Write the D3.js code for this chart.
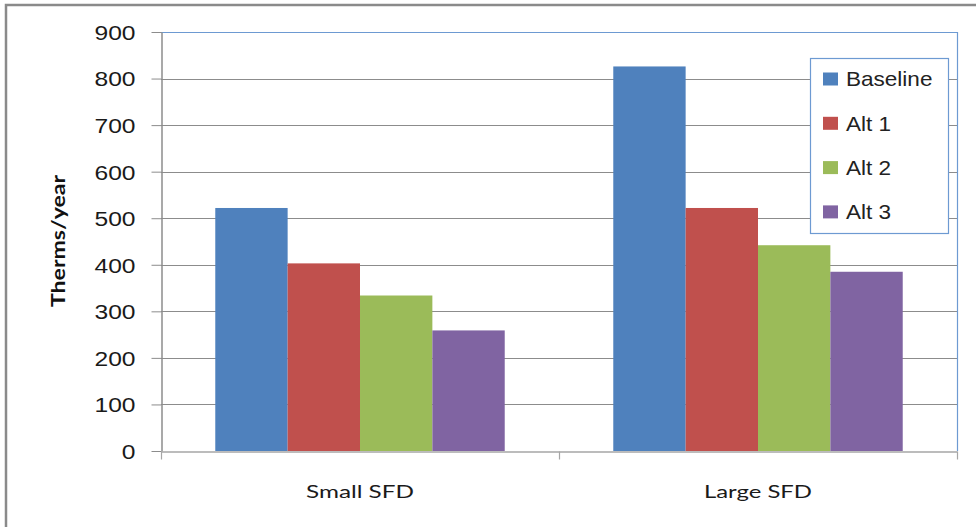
<!DOCTYPE html>
<html>
<head>
<meta charset="utf-8">
<script src="https://cdn.jsdelivr.net/npm/d3@7"></script>
<style>
  html, body { margin: 0; padding: 0; background: #fff; }
  svg { display: block; }
</style>
</head>
<body>
<svg id="chart" width="976" height="527"></svg>
<script>
// Annual gas use per house type and scenario
const categories = ["Small SFD", "Large SFD"];
const seriesNames = ["Baseline", "Alt 1", "Alt 2", "Alt 3"];
const baseline = [522, 826];
const alt1 = [403, 522];
const alt2 = [334, 442];
const alt3 = [259, 385];
const yTicks = [0, 100, 200, 300, 400, 500, 600, 700, 800, 900];
const seriesColors = ["#4F81BD", "#C0504D", "#9BBB59", "#8064A2"];
const yTitle = "Therms/year";

const seriesValues = [baseline, alt1, alt2, alt3];

const svg = d3.select("#chart");
const plot = { left: 161, right: 957, top: 32, bottom: 451 };

// Outer chart frame (continues past the visible window)
svg.append("rect")
  .attr("x", 6).attr("y", 5)
  .attr("width", 1000).attr("height", 600)
  .attr("fill", "#fff")
  .attr("stroke", "#8a8a8a")
  .attr("stroke-width", 2.5);

const x0 = d3.scaleBand().domain(categories).range([plot.left, plot.right]).padding(0);
const x1 = d3.scaleBand().domain(seriesNames).range([0, x0.bandwidth()])
  .paddingInner(0).paddingOuter(0.75);
const y = d3.scaleLinear().domain([0, 900]).range([plot.bottom, plot.top]);
const color = d3.scaleOrdinal().domain(seriesNames).range(seriesColors);

// Horizontal gridlines
svg.append("g")
  .selectAll("line")
  .data(yTicks.filter(t => t > 0 && t < 900))
  .join("line")
  .attr("x1", plot.left).attr("x2", plot.right)
  .attr("y1", d => Math.round(y(d)) + 0.5).attr("y2", d => Math.round(y(d)) + 0.5)
  .attr("stroke", "#8c8c8c").attr("stroke-width", 1);

// Plot area border (top and right)
svg.append("path")
  .attr("d", `M${plot.left},${plot.top + 0.5}H${plot.right + 0.5}V${plot.bottom}`)
  .attr("fill", "none")
  .attr("stroke", "#6d9ad2")
  .attr("stroke-width", 1.2);

// Bars
const groups = svg.append("g")
  .selectAll("g")
  .data(categories)
  .join("g")
  .attr("transform", d => `translate(${x0(d)},0)`);

groups.selectAll("rect")
  .data((c, ci) => seriesNames.map((s, si) => ({ s, v: seriesValues[si][ci] })))
  .join("rect")
  .attr("x", d => x1(d.s))
  .attr("y", d => y(d.v))
  .attr("width", x1.bandwidth())
  .attr("height", d => y(0) - y(d.v))
  .attr("fill", d => color(d.s));

// Y axis
const yAxis = d3.axisLeft(y).tickValues(yTicks).tickSize(10).tickSizeOuter(0).tickPadding(0);
const yg = svg.append("g")
  .attr("transform", `translate(${plot.left + 0.5},0)`)
  .call(yAxis);
yg.select(".domain").attr("stroke", "#8c8c8c").attr("stroke-width", 1.5);
yg.selectAll(".tick line").attr("stroke", "#8c8c8c");
yg.selectAll(".tick text")
  .attr("x", 0).attr("dy", "0.36em")
  .attr("transform", "translate(-26,0) scale(1.2,1)")
  .attr("text-anchor", "end")
  .attr("font-family", "'Liberation Sans', Arial, sans-serif")
  .attr("font-size", 20.5)
  .attr("fill", "#1a1a1a");

// X axis
const xAxis = d3.axisBottom(x0).tickSize(0).tickSizeOuter(0).tickPadding(0);
const xg = svg.append("g")
  .attr("transform", `translate(0,${plot.bottom + 0.5})`)
  .call(xAxis);
xg.select(".domain").attr("stroke", "#a6a6a6").attr("stroke-width", 1.5);
xg.selectAll(".tick text").remove();
// Category boundary tick marks
xg.selectAll(".sep")
  .data([plot.left, x0("Large SFD"), plot.right])
  .join("line")
  .attr("class", "sep")
  .attr("x1", d => d + 0.5).attr("x2", d => d + 0.5)
  .attr("y1", 0).attr("y2", 8)
  .attr("stroke", "#a6a6a6").attr("stroke-width", 1.2);
// Category labels
svg.append("g")
  .selectAll("text")
  .data(categories)
  .join("text")
  .attr("x", d => x0(d) + x0.bandwidth() / 2)
  .attr("y", 498)
  .attr("text-anchor", "middle")
  .attr("font-family", "Lato, 'Open Sans', sans-serif")
  .attr("font-size", 18)
  .attr("fill", "#1a1a1a")
  .attr("textLength", 108)
  .attr("lengthAdjust", "spacingAndGlyphs")
  .text(d => d);

// Y axis title
svg.append("text")
  .attr("transform", "translate(65,241) rotate(-90)")
  .attr("text-anchor", "middle")
  .attr("font-family", "Lato, 'Open Sans', sans-serif")
  .attr("font-weight", "bold")
  .attr("font-size", 19)
  .attr("fill", "#111")
  .attr("textLength", 132)
  .attr("lengthAdjust", "spacingAndGlyphs")
  .text(yTitle);

// Legend
const legend = svg.append("g");
legend.append("rect")
  .attr("x", 810.5).attr("y", 58.5)
  .attr("width", 138).attr("height", 175)
  .attr("fill", "#fff")
  .attr("stroke", "#6d9ad2")
  .attr("stroke-width", 1.2);
const items = legend.selectAll("g.item")
  .data(seriesNames)
  .join("g")
  .attr("class", "item")
  .attr("transform", (d, i) => `translate(823,${79 + i * 44.3})`);
items.append("rect")
  .attr("x", 0).attr("y", -6.5)
  .attr("width", 15).attr("height", 13)
  .attr("fill", d => color(d));
items.append("text")
  .attr("x", 0).attr("dy", "0.36em")
  .attr("transform", "translate(23,0) scale(1.1,1)")
  .attr("font-family", "'Liberation Sans', Arial, sans-serif")
  .attr("font-size", 20.5)
  .attr("fill", "#222")
  .text(d => d);
</script>
</body>
</html>
